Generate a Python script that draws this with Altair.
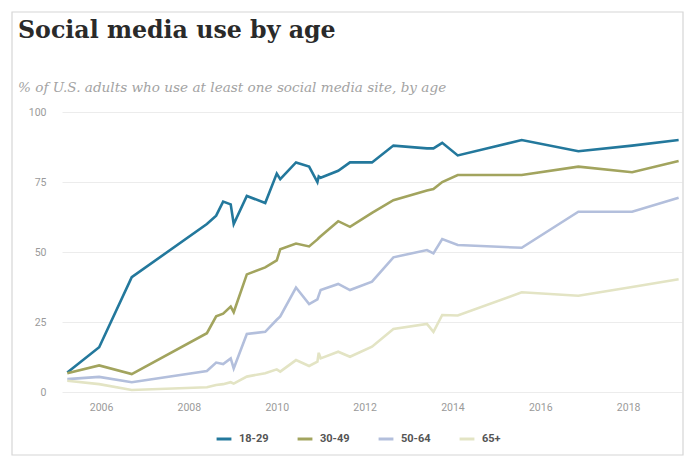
import altair as alt
import pandas as pd

# Survey dates
dates = [
    "2005-03-26", "2005-12-16", "2006-09-13", "2008-05-30", "2008-08-15",
    "2008-10-12", "2008-12-14", "2009-01-08", "2009-04-27", "2009-09-27",
    "2010-01-01", "2010-01-30", "2010-06-10", "2010-09-27", "2010-12-05",
    "2010-12-16", "2011-01-01", "2011-05-27", "2011-09-02", "2012-03-03",
    "2012-08-28", "2013-06-03", "2013-07-27", "2013-10-08", "2014-02-14",
    "2015-07-31", "2016-11-13", "2018-02-03", "2019-02-25",
]

age_18_29 = [7, 16, 41, 60, 63, 68, 67, 60, 70, 67.5, 78, 76, 82, 80.5, 75,
             77, 76.5, 79, 82, 82, 88, 87, 87, 89, 84.5, 90, 86, 88, 90]
age_30_49 = [6.7, 9.5, 6.4, 21, 27, 28, 30.5, 28.5, 42, 44.5, 47, 51, 53, 52,
             54.5, 55, 55.6, 61, 59, 64, 68.5, 72, 72.5, 75, 77.5, 77.5, 80.5,
             78.5, 82.5]
age_50_64 = [4.6, 5.4, 3.5, 7.5, 10.5, 10, 12, 8.4, 20.7, 21.5, 25.8, 27, 37.3,
             31.4, 33.1, 34.5, 36.4, 38.6, 36.4, 39.4, 48.1, 50.7, 49.5, 54.6,
             52.5, 51.5, 64.4, 64.4, 69.4]
age_65 = [4.0, 2.8, 0.7, 1.7, 2.5, 2.8, 3.5, 3.0, 5.5, 6.7, 8.1, 7.3, 11.4, 9.3,
          10.8, 14, 12, 14.4, 12.6, 16.2, 22.5, 24.3, 21.5, 27.5, 27.3, 35.6,
          34.4, 37.5, 40.3]

series_names = ["18-29", "30-49", "50-64", "65+"]
series_colors = ["#23789c", "#a2a45e", "#b3bfdc", "#e3e4c4"]
tick_years = [2006, 2008, 2010, 2012, 2014, 2016, 2018]
y_ticks = [0, 25, 50, 75, 100]

title_text = "Social media use by age"
subtitle_text = "% of U.S. adults who use at least one social media site, by age"

rows = []
for name, vals in zip(series_names, [age_18_29, age_30_49, age_50_64, age_65]):
    for d, v in zip(dates, vals):
        rows.append({"date": d, "value": v, "age": name})
df = pd.DataFrame(rows)

label_font = "Roboto, Liberation Sans, sans-serif"

lines = alt.Chart(df).mark_line(strokeWidth=2.6, interpolate="linear").encode(
    x=alt.X(
        "date:T",
        scale=alt.Scale(type="utc", domain=[alt.DateTime(year=2005, month=2, date=10, utc=True),
                                            alt.DateTime(year=2019, month=3, date=25, utc=True)]),
        axis=alt.Axis(
            values=[alt.DateTime(year=y, month=1, date=1, utc=True) for y in tick_years],
            format="%Y", formatType="utc", title=None, grid=False, domain=False, ticks=False,
            labelColor="#9a9a9a", labelFont=label_font, labelFontSize=10.5, labelPadding=10,
        ),
    ),
    y=alt.Y(
        "value:Q",
        scale=alt.Scale(domain=[0, 100], nice=False, zero=True),
        axis=alt.Axis(
            values=y_ticks, title=None, domain=False, ticks=False,
            labelColor="#9a9a9a", labelFont=label_font, labelFontSize=10.5, labelPadding=16,
            gridColor="#ececec", gridWidth=1,
        ),
    ),
    color=alt.Color(
        "age:N",
        scale=alt.Scale(domain=series_names, range=series_colors),
        legend=alt.Legend(
            title=None, orient="none", direction="horizontal", legendX=153, legendY=318,
            symbolType="stroke", symbolStrokeWidth=3, symbolSize=220,
            labelFont=label_font, labelFontSize=11, labelFontWeight="bold",
            labelColor="#555555", columnPadding=22, labelOffset=6,
        ),
    ),
    order=alt.Order("date:T"),
)

one = pd.DataFrame({"k": [0]})
frame = alt.Chart(one).mark_rect(fill=None, stroke="#d6d6d6", strokeWidth=1.2).encode(
    x=alt.value(-50), x2=alt.value(621), y=alt.value(-100), y2=alt.value(343)
)
title = alt.Chart(one).mark_text(
    text=title_text, align="left", baseline="alphabetic",
    font="DejaVu Serif", fontSize=23.7, fontWeight="bold", color="#2a2a2a",
).encode(x=alt.value(-44), y=alt.value(-74))
subtitle = alt.Chart(one).mark_text(
    text=subtitle_text, align="left", baseline="alphabetic",
    font="DejaVu Serif", fontStyle="italic", fontSize=13.6, color="#a3a3a3",
).encode(x=alt.value(-44), y=alt.value(-20))

chart = alt.layer(frame, title, subtitle, lines).properties(
    width=620,
    height=280,
    autosize=alt.AutoSizeParams(type="none"),
    padding={"left": 54, "top": 104, "right": 5, "bottom": 64},
).configure_view(stroke=None)

chart.save("out.html", embed_options={"renderer": "svg", "actions": False})
